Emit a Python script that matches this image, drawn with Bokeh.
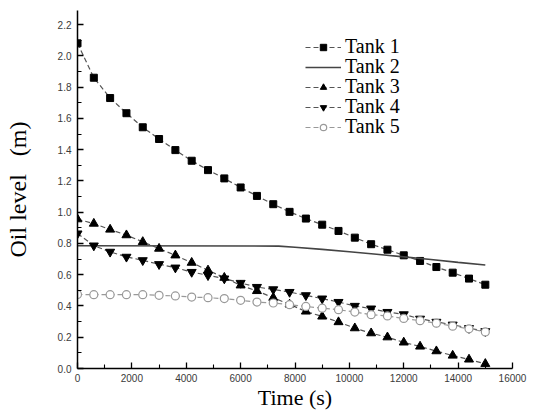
from bokeh.plotting import figure
from bokeh.models import Range1d, FixedTicker, PrintfTickFormatter, Legend, LegendItem
from bokeh.embed import file_html
from bokeh.resources import INLINE

# ---- data ----
time_s = [0, 600, 1200, 1800, 2400, 3000, 3600, 4200, 4800, 5400, 6000, 6600, 7200,
          7800, 8400, 9000, 9600, 10200, 10800, 11400, 12000, 12600, 13200, 13800, 14400, 15000]
tank1 = [2.08, 1.86, 1.73, 1.633, 1.543, 1.468, 1.397, 1.329, 1.269, 1.216, 1.158, 1.104, 1.051,
         1.002, 0.959, 0.92, 0.88, 0.837, 0.795, 0.76, 0.724, 0.688, 0.649, 0.613, 0.575, 0.536]
tank2_t = [0, 7400, 8000, 9000, 10000, 11000, 12000, 13000, 14000, 15000]
tank2 = [0.785, 0.783, 0.776, 0.762, 0.747, 0.731, 0.714, 0.697, 0.679, 0.662]
tank3 = [0.955, 0.927, 0.889, 0.853, 0.81, 0.767, 0.724, 0.677, 0.628, 0.581, 0.532, 0.496, 0.453,
         0.41, 0.365, 0.333, 0.297, 0.258, 0.226, 0.2, 0.167, 0.141, 0.111, 0.083, 0.058, 0.03]
tank4 = [0.863, 0.786, 0.746, 0.714, 0.692, 0.667, 0.645, 0.617, 0.596, 0.575, 0.547, 0.521, 0.506,
         0.489, 0.468, 0.447, 0.425, 0.4, 0.383, 0.361, 0.346, 0.318, 0.298, 0.28, 0.258, 0.238]
tank5 = [0.474, 0.472, 0.472, 0.472, 0.472, 0.468, 0.464, 0.457, 0.453, 0.447, 0.436, 0.425, 0.419,
         0.408, 0.397, 0.386, 0.376, 0.361, 0.344, 0.336, 0.32, 0.306, 0.29, 0.271, 0.254, 0.234]
series_names = ["Tank 1", "Tank 2", "Tank 3", "Tank 4", "Tank 5"]
x_ticks = [0, 2000, 4000, 6000, 8000, 10000, 12000, 14000, 16000]
x_minor = [1000, 3000, 5000, 7000, 9000, 11000, 13000, 15000]
y_ticks = [0.0, 0.2, 0.4, 0.6, 0.8, 1.0, 1.2, 1.4, 1.6, 1.8, 2.0, 2.2]
y_minor = [0.1, 0.3, 0.5, 0.7, 0.9, 1.1, 1.3, 1.5, 1.7, 1.9, 2.1]

p = figure(width=537, height=417, output_backend="svg", toolbar_location=None,
           x_range=Range1d(0, 16000), y_range=Range1d(0, 2.29),
           min_border_left=77, min_border_right=25, min_border_top=10, min_border_bottom=49)
p.grid.visible = False
p.outline_line_color = None
p.background_fill_color = "white"
p.border_fill_color = "white"

for ax in (p.xaxis[0], p.yaxis[0]):
    ax.axis_line_color = "black"
    ax.axis_line_width = 1.5
    ax.major_tick_line_color = "black"
    ax.minor_tick_line_color = "black"
    ax.major_tick_line_width = 1.3
    ax.minor_tick_line_width = 1.1
    ax.major_tick_in = 6
    ax.major_tick_out = 0
    ax.minor_tick_in = 4
    ax.minor_tick_out = 0
    ax.major_label_text_font = "Liberation Sans"
    ax.major_label_text_font_size = "10px"
    ax.major_label_text_color = "#3a3a3a"
    ax.axis_label_text_font = "Liberation Serif"
    ax.axis_label_text_font_size = "22px"
    ax.axis_label_text_font_style = "normal"
    ax.axis_label_text_color = "black"

p.yaxis[0].axis_label_text_font_size = "24px"
p.xaxis[0].ticker = FixedTicker(ticks=x_ticks, minor_ticks=x_minor)
p.yaxis[0].ticker = FixedTicker(ticks=y_ticks, minor_ticks=y_minor)
p.yaxis[0].formatter = PrintfTickFormatter(format="%.1f")
p.xaxis[0].major_label_standoff = 5
p.yaxis[0].major_label_standoff = 6
p.xaxis[0].axis_label = "Time (s)"
p.yaxis[0].axis_label = "Oil level \u00a0\u00a0(m)"
p.xaxis[0].axis_label_standoff = 0
p.yaxis[0].axis_label_standoff = 24

dash = "5 3"
l1 = p.line(time_s, tank1, line_color="#555555", line_dash=dash, line_width=1.2)
m1 = p.scatter(time_s, tank1, marker="square", size=7, fill_color="black", line_color="black")
l2 = p.line(tank2_t, tank2, line_color="#444444", line_width=1.6)
l3 = p.line(time_s, tank3, line_color="#555555", line_dash=dash, line_width=1.2)
m3 = p.scatter(time_s, tank3, marker="triangle", size=9, fill_color="black", line_color="black")
l4 = p.line(time_s, tank4, line_color="#555555", line_dash=dash, line_width=1.2)
m4 = p.scatter(time_s, tank4, marker="inverted_triangle", size=9, fill_color="black", line_color="black")
l5 = p.line(time_s, tank5, line_color="#999999", line_dash=dash, line_width=1.2)
m5 = p.scatter(time_s, tank5, marker="circle", size=8, fill_color="white", line_color="#999999", line_width=1.2)

renderer_groups = [[l1, m1], [l2], [l3, m3], [l4, m4], [l5, m5]]
# one single-item legend per row so that the row pitch matches the reference
for i, (name, rs) in enumerate(zip(series_names, renderer_groups)):
    lg = Legend(items=[LegendItem(label=name, renderers=rs)], location=(228, 310 - 20 * i),
                border_line_color=None, background_fill_alpha=0, padding=0, margin=0,
                spacing=0, glyph_width=36, glyph_height=16, label_height=16, label_standoff=4,
                label_text_font="Liberation Serif", label_text_font_size="20px",
                label_text_color="black")
    p.add_layout(lg, "center")

open("out.html", "w").write(file_html(p, INLINE))
